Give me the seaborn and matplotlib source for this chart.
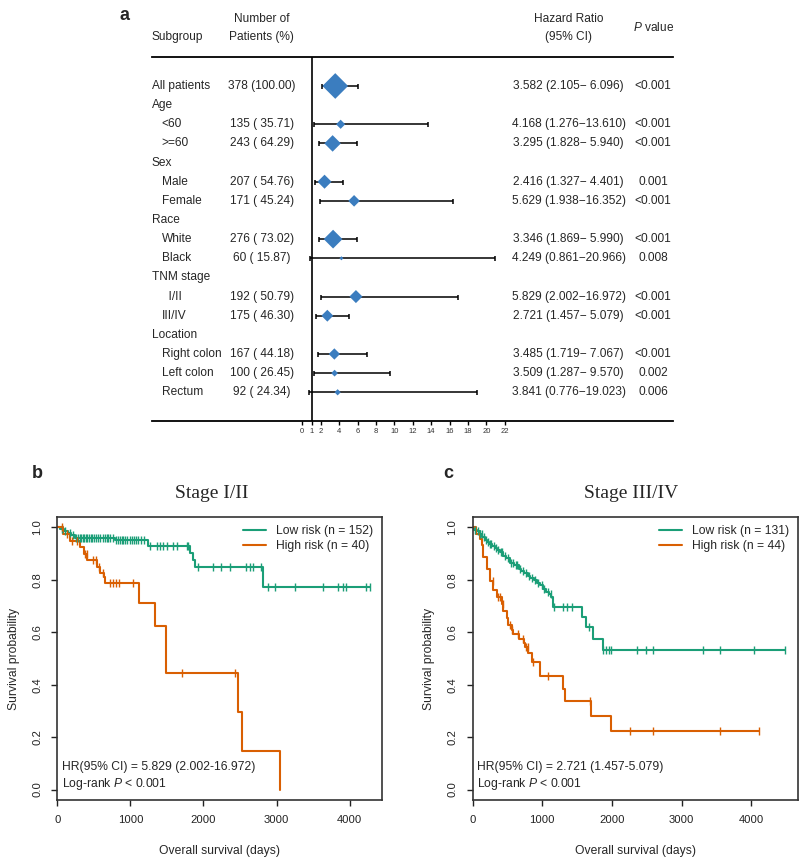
import numpy as np
import matplotlib
matplotlib.use("Agg")
import matplotlib.pyplot as plt
import matplotlib.transforms as mtransforms
import seaborn as sns

# ---------- panel a: subgroup forest plot ----------
subgroups = ["All patients", "Age", "<60", ">=60", "Sex", "Male", "Female",
             "Race", "White", "Black", "TNM stage", "  I/II", "III/IV",
             "Location", "Right colon", "Left colon", "Rectum"]
top_level = ["All patients", "Age", "Sex", "Race", "TNM stage", "Location"]
n_pat = [378, np.nan, 135, 243, np.nan, 207, 171, np.nan, 276, 60, np.nan,
         192, 175, np.nan, 167, 100, 92]
pct = [100.00, np.nan, 35.71, 64.29, np.nan, 54.76, 45.24, np.nan, 73.02, 15.87,
       np.nan, 50.79, 46.30, np.nan, 44.18, 26.45, 24.34]
hr = [3.582, np.nan, 4.168, 3.295, np.nan, 2.416, 5.629, np.nan, 3.346, 4.249,
      np.nan, 5.829, 2.721, np.nan, 3.485, 3.509, 3.841]
hr_lo = [2.105, np.nan, 1.276, 1.828, np.nan, 1.327, 1.938, np.nan, 1.869, 0.861,
         np.nan, 2.002, 1.457, np.nan, 1.719, 1.287, 0.776]
hr_hi = [6.096, np.nan, 13.610, 5.940, np.nan, 4.401, 16.352, np.nan, 5.990, 20.966,
         np.nan, 16.972, 5.079, np.nan, 7.067, 9.570, 19.023]
pvals = ["<0.001", "", "<0.001", "<0.001", "", "0.001", "<0.001", "", "<0.001", "0.008",
         "", "<0.001", "<0.001", "", "<0.001", "0.002", "0.006"]
forest_ticks = [0, 1, 2, 4, 6, 8, 10, 12, 14, 16, 18, 20, 22]

# ---------- panel b: stage I/II KM ----------
b_low_t = [0, 40, 90, 140, 190, 240, 790, 1235, 1810, 1850, 1890, 2820]
b_low_s = [1.0, 0.993, 0.987, 0.980, 0.973, 0.960, 0.953, 0.928, 0.902, 0.877, 0.849, 0.774]
b_low_cens = [60, 110, 170, 210, 260, 290, 310, 330, 350, 370, 390, 410, 440, 460, 480,
              500, 530, 560, 590, 620, 650, 680, 700, 720, 760, 800, 830, 860, 880, 900,
              930, 960, 990, 1020, 1050, 1080, 1110, 1140, 1180, 1266, 1362, 1403, 1444,
              1499, 1581, 1636, 1772, 1790, 1927, 2131, 2246, 2359, 2587, 2633, 2678,
              2792, 2883, 2974, 3247, 3634, 3839, 3907, 3953, 4227, 4272]
b_high_t = [0, 80, 178, 315, 360, 406, 543, 588, 634, 657, 1113, 1340, 1494, 2473, 2533, 3042]
b_high_s = [1.0, 0.975, 0.95, 0.925, 0.90, 0.875, 0.85, 0.825, 0.81, 0.79, 0.71, 0.624,
            0.445, 0.296, 0.148, 0.0]
b_high_cens = [60, 130, 200, 270, 380, 400, 490, 530, 570, 630, 720, 760, 800, 840,
               1040, 1713, 2428]

# ---------- panel c: stage III/IV KM ----------
c_low_t = [0, 25, 60, 100, 140, 170, 200, 240, 280, 320, 350, 390, 440, 480, 530, 600,
           660, 700, 740, 790, 830, 880, 920, 960, 1010, 1050, 1100, 1130, 1156, 1563,
           1634, 1729, 1872]
c_low_s = [1.0, 0.992, 0.985, 0.977, 0.962, 0.954, 0.946, 0.938, 0.93, 0.922, 0.914,
           0.906, 0.89, 0.882, 0.865, 0.858, 0.842, 0.834, 0.826, 0.814, 0.806, 0.798,
           0.789, 0.78, 0.764, 0.755, 0.745, 0.736, 0.697, 0.659, 0.62, 0.576, 0.531]
c_low_cens = [30, 70, 110, 130, 160, 190, 220, 250, 270, 300, 330, 370, 400, 420, 460,
              500, 550, 580, 620, 640, 680, 720, 760, 810, 850, 900, 940, 990, 1030,
              1080, 1120, 1170, 1299, 1360, 1419, 1672, 1872, 1921, 1958, 1993, 2366,
              2494, 2590, 3306, 3545, 4047, 4492]
c_high_t = [0, 50, 100, 140, 150, 155, 200, 205, 248, 252, 296, 344, 420, 440, 490, 510,
            560, 580, 660, 730, 745, 795, 846, 965, 1299, 1323, 1706, 1993]
c_high_s = [1.0, 0.977, 0.955, 0.932, 0.909, 0.886, 0.863, 0.84, 0.817, 0.794, 0.762,
            0.736, 0.709, 0.682, 0.655, 0.628, 0.608, 0.595, 0.575, 0.56, 0.545, 0.52,
            0.486, 0.435, 0.384, 0.338, 0.281, 0.223]
c_high_cens = [290, 360, 390, 430, 530, 570, 645, 716, 770, 790, 869, 1084, 1682, 2255,
               2590, 3545, 4119]

green = "#1B9E77"
orange = "#D95F02"
blue = "#3B7DBF"

sns.set_style("ticks")
plt.rcParams["font.family"] = ["Liberation Sans", "DejaVu Sans"]
plt.rcParams["mathtext.fontset"] = "custom"
plt.rcParams["mathtext.rm"] = "Liberation Sans"
plt.rcParams["mathtext.it"] = "Liberation Sans:italic"

fig = plt.figure(figsize=(8, 8.59), dpi=100)

# ---- forest ----
ax = fig.add_axes([152 / 800, 1 - 421 / 859, 521 / 800, 364.3 / 859])
ax.set_xlim((152 - 302.3) / 9.2, (673 - 302.3) / 9.2)
ax.set_ylim(17.5, -1.53)
rows = np.arange(len(subgroups))
hr_a = np.array(hr)
lo_a = np.array(hr_lo)
hi_a = np.array(hr_hi)
n_a = np.array(n_pat)
ok = ~np.isnan(hr_a)

ax.axvline(1, color="black", lw=1.2, zorder=1)
ax.errorbar(hr_a[ok], rows[ok], xerr=[hr_a[ok] - lo_a[ok], hi_a[ok] - hr_a[ok]],
            fmt="none", ecolor="black", elinewidth=1.1, capsize=1.8, capthick=1.1, zorder=2)
# diamond width follows the number of patients
sns.scatterplot(x=hr_a[ok], y=rows[ok], marker="D", s=(n_a[ok] * 0.068 / 1.964) ** 2,
                color=blue, linewidth=0, zorder=3, ax=ax, legend=False)

for s in ["left", "right"]:
    ax.spines[s].set_visible(False)
for s in ["top", "bottom"]:
    ax.spines[s].set_visible(True)
    ax.spines[s].set_linewidth(1.3)
    ax.spines[s].set_color("black")
ax.set_xticks(forest_ticks)
ax.set_xticklabels([str(v) for v in forest_ticks])
ax.tick_params(axis="x", bottom=True, top=False, direction="out", length=3, width=1,
               labelsize=5.5, pad=2, colors="black", labelcolor="#333333")
ax.set_yticks([])
ax.set_xlabel("")
ax.set_ylabel("")

tr = mtransforms.blended_transform_factory(ax.transAxes, ax.transData)
fs = 8.6
for i, lab in enumerate(subgroups):
    x0 = 0.0 if lab in top_level else 0.0186
    ax.text(x0, i, lab, transform=tr, ha="left", va="center", fontsize=fs)
    if not np.isnan(n_pat[i]):
        ax.text(0.211, i, "%d (%6.2f)" % (n_pat[i], pct[i]), transform=tr,
                ha="center", va="center", fontsize=fs)
        ax.text(0.800, i, "%.3f (%.3f\u2212%6.3f)" % (hr[i], hr_lo[i], hr_hi[i]),
                transform=tr, ha="center", va="center", fontsize=fs)
        ax.text(0.962, i, pvals[i], transform=tr, ha="center", va="center", fontsize=fs)

ax.text(0.0, -2.58, "Subgroup", transform=tr, ha="left", va="center", fontsize=fs)
ax.text(0.211, -3.5, "Number of", transform=tr, ha="center", va="center", fontsize=fs)
ax.text(0.211, -2.58, "Patients (%)", transform=tr, ha="center", va="center", fontsize=fs)
ax.text(0.800, -3.5, "Hazard Ratio", transform=tr, ha="center", va="center", fontsize=fs)
ax.text(0.800, -2.58, "(95% CI)", transform=tr, ha="center", va="center", fontsize=fs)
ax.text(0.962, -3.05, "$\\mathit{P}$ value", transform=tr, ha="center", va="center", fontsize=fs)

fig.text(125 / 800, 1 - 15 / 859, "a", fontsize=13, fontweight="bold", ha="center", va="center")


def step_at(t, s, q):
    idx = np.searchsorted(np.array(t), np.array(q), side="right") - 1
    return np.array(s)[idx]


def km_panel(rect, title, title_x, groups, hr_txt, xmax):
    axk = fig.add_axes(rect)
    for t, s, cens, col, lab in groups:
        tt = list(t)
        ss = list(s)
        if max(cens) > tt[-1]:
            tt.append(max(cens))
            ss.append(ss[-1])
        sns.lineplot(x=tt, y=ss, drawstyle="steps-post", estimator=None, sort=False,
                     color=col, lw=1.5, ax=axk, label=lab)
        sns.scatterplot(x=cens, y=step_at(t, s, cens), marker="|", s=30, color=col,
                        linewidth=1.0, ax=axk, legend=False, zorder=3)
    axk.set_xlim(0, xmax)
    axk.set_ylim(-0.04, 1.04)
    axk.set_xticks([0, 1000, 2000, 3000, 4000])
    axk.set_yticks([0.0, 0.2, 0.4, 0.6, 0.8, 1.0])
    axk.set_yticklabels(["0.0", "0.2", "0.4", "0.6", "0.8", "1.0"], rotation=90, va="center")
    axk.tick_params(bottom=True, left=True, direction="out", length=4, width=1,
                    labelsize=8.1, pad=7, colors="#222222")
    for sp in axk.spines.values():
        sp.set_visible(True)
        sp.set_linewidth(1.2)
        sp.set_color("#333333")
    axk.set_xlabel("Overall survival (days)", fontsize=8.7, labelpad=14)
    axk.set_ylabel("Survival probability", fontsize=8.7, labelpad=9)
    leg = axk.legend(loc="upper right", frameon=False, fontsize=8.7, handlelength=1.9,
                     handletextpad=0.9, labelspacing=0.24, borderaxespad=0.4,
                     borderpad=0.3)
    for ln in leg.get_lines():
        ln.set_linewidth(1.5)
    axk.text(0.0135, 0.1155, hr_txt, transform=axk.transAxes, fontsize=8.7, va="center")
    axk.text(0.0135, 0.0565, "Log-rank $\\mathit{P}$ < 0.001", transform=axk.transAxes,
             fontsize=8.7, va="center")
    fig.text(title_x / 800, 1 - 493 / 859, title, fontsize=14, ha="center", va="center",
             family=["Liberation Serif", "DejaVu Serif"])
    return axk


km_panel([57.3 / 800, 1 - 800 / 859, 324.7 / 800, 283 / 859], "Stage I/II", 212,
         [(b_low_t, b_low_s, b_low_cens, green, "Low risk (n = 152)"),
          (b_high_t, b_high_s, b_high_cens, orange, "High risk (n = 40)")],
         "HR(95% CI) = 5.829 (2.002-16.972)", 4443)
km_panel([472.7 / 800, 1 - 800 / 859, 325.3 / 800, 283 / 859], "Stage III/IV", 631,
         [(c_low_t, c_low_s, c_low_cens, green, "Low risk (n = 131)"),
          (c_high_t, c_high_s, c_high_cens, orange, "High risk (n = 44)")],
         "HR(95% CI) = 2.721 (1.457-5.079)", 4672)

fig.text(37 / 800, 1 - 474 / 859, "b", fontsize=13, fontweight="bold", ha="center", va="center")
fig.text(448 / 800, 1 - 474 / 859, "c", fontsize=13, fontweight="bold", ha="center", va="center")

fig.savefig("out.png", dpi=100)
